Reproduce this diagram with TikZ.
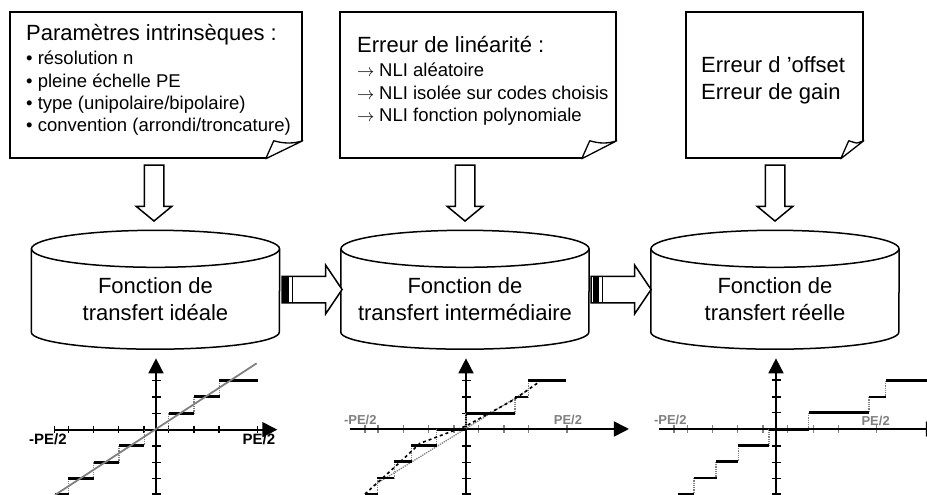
\documentclass[tikz,border=0pt]{standalone}
\usepackage{fontspec}
\usepackage{tikz}
\usetikzlibrary{arrows.meta}
\usetikzlibrary{shapes.arrows}
\setmainfont{Liberation Sans}
\definecolor{axisgray}{HTML}{808080}
\newcommand{\titlesize}{\fontsize{22}{27}\selectfont}
\newcommand{\itemsize}{\fontsize{18.5}{22.4}\selectfont}
\newcommand{\imply}{\makebox[22pt][l]{$\rightarrow$}}
% rabat du coin bas droit d'une note
\newcommand{\notefold}[3]{
    \fill[white] ([xshift=-#2pt]#1.south east) -- ([xshift=1pt,yshift=-1pt]#1.south east) -- ([yshift=#3pt]#1.south east) -- cycle;
    \draw[foldline] ([xshift=-#2pt]#1.south east) -- ([xshift=-#2pt+8pt,yshift=#3pt]#1.south east)
        .. controls ([xshift=-#2pt+18pt,yshift=#3pt-3pt]#1.south east) and ([xshift=-9pt,yshift=#3pt-3pt]#1.south east) .. ([yshift=#3pt]#1.south east) -- cycle;
}
% contour du cylindre autour du corps d'un bloc
\newcommand{\blocoutline}[1]{
    \draw[blocline] (#1.north) ellipse [x radius=124pt,y radius=18.5pt];
    \draw[blocline] (#1.north west) -- ([yshift=17pt]#1.south west)
        arc [start angle=180,end angle=360,x radius=124pt,y radius=17pt] -- (#1.north east);
}
\tikzset{
    notebox/.style={draw=black,line width=1.5pt,inner sep=0pt},
    notetext/.style={anchor=west,align=left,inner sep=0pt,font=\itemsize},
    foldline/.style={draw=black,fill=white,line width=1.3pt,line join=round},
    bloc/.style={minimum width=248pt,minimum height=100pt,inner sep=0pt,align=center,font=\titlesize},
    blocline/.style={draw=black,line width=1.5pt},
    downarrow/.style={shape=single arrow,shape border rotate=270,draw=black,line width=1.5pt,inner xsep=9pt,inner ysep=0pt,
        minimum height=56pt,minimum width=34pt,single arrow head extend=8pt,single arrow tip angle=101,anchor=tip},
    sidearrow/.style={shape=single arrow,draw=black,fill=white,line width=1.5pt,inner xsep=0pt,inner ysep=12.5pt,
        minimum height=60pt,minimum width=47pt,single arrow head extend=11pt,single arrow tip angle=112,anchor=tip},
    stripe/.style={fill=black,inner sep=0pt,minimum height=26pt},
    axis/.style={line width=1.7pt,-{Stealth[length=15pt,width=15pt,inset=0pt]}},
    tickmark/.style={line width=1.2pt},
    grayticks/.style={line width=1.2pt,draw=axisgray},
    stepline/.style={line width=2.8pt},
    jumpline/.style={line width=1.3pt,draw=axisgray,densely dotted},
    blacklabel/.style={font=\fontsize{15}{15}\selectfont\bfseries,inner sep=0pt},
    graylabel/.style={font=\fontsize{13}{13}\selectfont\bfseries,text=axisgray,inner sep=0pt},
    zoomed/.style={x=0.3333pt,y=-0.3333pt}
}

\begin{document}
\begin{tikzpicture}[x=1pt,y=-1pt]
    \useasboundingbox (0,0) rectangle (927,495);

    % notes
    \node[notebox,minimum width=292pt,minimum height=146pt] (params) at (156,85) {};
    \node[notebox,minimum width=276pt,minimum height=146pt] (nli) at (478,85) {};
    \node[notebox,minimum width=177pt,minimum height=146pt] (errors) at (774.5,85) {};
    \notefold{params}{37}{18}
    \notefold{nli}{35}{18}
    \notefold{errors}{23}{18}

    \node[notetext] (paramstext) at (26,80) {{\titlesize Paramètres intrinsèques :}\\[2pt]
        • résolution n\\• pleine échelle PE\\• type (unipolaire/bipolaire)\\• convention (arrondi/troncature)};
    \node[notetext] (nlitext) at (357,81) {{\titlesize Erreur de linéarité :}\\[2pt]
        \imply NLI aléatoire\\\imply NLI isolée sur codes choisis\\\imply NLI fonction polynomiale};
    \node[notetext,font=\titlesize] (errorstext) at (701,80) {Erreur d ’offset\\Erreur de gain};

    % arrows going down
    \node[downarrow] (downa) at (154,222) {};
    \node[downarrow] (downb) at (465,222) {};
    \node[downarrow] (downc) at (775,222) {};

    % transfer function blocks
    \node[bloc] (ideal) at (155.5,299) {Fonction de\\transfert idéale};
    \node[bloc] (middle) at (465,299) {Fonction de\\transfert intermédiaire};
    \node[bloc] (real) at (775,299) {Fonction de\\transfert réelle};
    \blocoutline{ideal}
    \blocoutline{middle}
    \blocoutline{real}

    % arrows between blocks
    \node[sidearrow] (sidea) at (343,289.5) {};
    \node[sidearrow] (sideb) at (652,289.5) {};
    \node[stripe,minimum width=6pt] (stripea) at (286,289.5) {};
    \node[stripe,minimum width=1.5pt] (stripeb) at (292.5,289.5) {};
    \node[stripe,minimum width=6pt] (stripec) at (596,289.5) {};
    \node[stripe,minimum width=1.5pt] (striped) at (602.5,289.5) {};

    % ideal transfer function
    \begin{scope}[shift={(0,340)},zoomed]
        \draw[axis] (162,269) -- (832,269);
        \draw[axis] (468,462) -- (468,55);
        \foreach \xt in {163,205,280,355,432,506,582,657,773}
            \draw[tickmark] (\xt,258) -- (\xt,280);
        \foreach \yt in {122,171,220,318,367,416,462}
            \draw[tickmark] (457,\yt) -- (482,\yt);
        \foreach \xa/\ya/\yb in {658/122/170,582/170/220,506/220/269,433/269/317,357/317/367,281/367/415,205/415/462}
            \draw[jumpline] (\xa,\ya) -- (\xa,\yb);
        \foreach \xa/\xb/\yc in {658/773/122,582/660/170,506/582/220,357/433/317,281/357/367,205/281/415,165/208/462}
            \draw[stepline] (\xa,\yc) -- (\xb,\yc);
        \draw[line width=1.8pt,draw=axisgray] (165,465) -- (770,70);
        \node[blacklabel] (idealneg) at (144,298) {-PE/2};
        \node[blacklabel] (idealpos) at (777,297) {PE/2};
    \end{scope}

    % intermediate transfer function
    \begin{scope}[shift={(310,340)},zoomed]
        \foreach \xt in {165,204,280,356,432,505,582,656,771}
            \draw[grayticks] (\xt,256) -- (\xt,280);
        \draw[axis] (120,267) -- (957,267);
        \draw[axis] (468,462) -- (468,55);
        \foreach \yt in {122,171,220,318,367,416,462}
            \draw[tickmark] (457,\yt) -- (482,\yt);
        \foreach \xa/\ya/\yb in {655/122/171,615/171/220,468/220/268,380/268/317,304/317/365,253/365/414,202/414/462}
            \draw[jumpline] (\xa,\ya) -- (\xa,\yb);
        \draw[jumpline] (190,437) -- (655,150);
        \foreach \xa/\xb/\yc in {655/768/122,615/655/171,468/615/220,380/468/268,304/380/317,253/307/365,202/253/414,165/205/462}
            \draw[stepline] (\xa,\yc) -- (\xb,\yc);
        \draw[line width=1.6pt,dashed] (165,462) -- (250,385) -- (330,310) -- (468,258) -- (610,180) -- (693,122);
        \node[graylabel] (middleneg) at (151,240) {-PE/2};
        \node[graylabel] (middlepos) at (774,240) {PE/2};
    \end{scope}

    % real transfer function
    \begin{scope}[shift={(620,340)},zoomed]
        \foreach \xt in {162,202,277,353,429,503,580,656,770}
            \draw[grayticks] (\xt,256) -- (\xt,280);
        \draw[axis] (118,267) -- (963,267);
        \draw[axis] (468,462) -- (468,55);
        \foreach \yt in {120,171,218,318,367,416,462}
            \draw[tickmark] (457,\yt) -- (482,\yt);
        \foreach \xa/\ya/\yb in {797/122/171,747/171/218,566/218/268,447/268/317,355/317/365,288/365/414,222/414/462}
            \draw[jumpline] (\xa,\ya) -- (\xa,\yb);
        \foreach \xa/\xb/\yc in {797/930/122,747/797/171,566/747/218,447/566/268,353/447/317,288/355/365,223/290/414,175/223/462}
            \draw[stepline] (\xa,\yc) -- (\xb,\yc);
        \node[graylabel] (realneg) at (151,240) {-PE/2};
        \node[graylabel] (realpos) at (767,243) {PE/2};
    \end{scope}
\end{tikzpicture}
\end{document}
